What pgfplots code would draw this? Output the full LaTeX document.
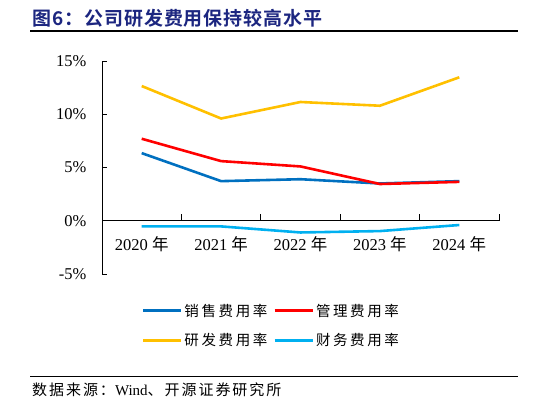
\documentclass[border=0pt]{standalone}
\usepackage{fontspec}
\usepackage{pgfplots}
\pgfplotsset{compat=1.18}
\setmainfont{Liberation Serif}
\newfontfamily\cjk{Noto Sans CJK SC}
\newfontfamily\cjkleg[LetterSpace=18]{Noto Sans CJK SC}
\newfontfamily\cjksrc[LetterSpace=13]{Noto Sans CJK SC}
\newfontfamily\cjktitle[LetterSpace=5]{Noto Sans CJK SC Bold}
\definecolor{titleblue}{RGB}{28,38,128}
\definecolor{cblue}{RGB}{0,112,192}
\definecolor{cred}{RGB}{255,0,0}
\definecolor{cyellow}{RGB}{255,192,0}
\definecolor{ccyan}{RGB}{0,176,240}
\begin{document}
\begin{tikzpicture}[x=1bp,y=1bp]
\useasboundingbox (0,0) rectangle (546,405);
\node[anchor=west, inner sep=0, text=titleblue, font=\cjktitle\fontsize{19bp}{21bp}\selectfont] at (32,387) {图6：公司研发费用保持较高水平};
\draw[line width=1.2bp] (30,374) -- (518,374);
\draw[line width=0.8bp] (30,29) -- (518,29);
\node[anchor=west, inner sep=0, font=\fontsize{15bp}{18bp}\selectfont] at (32,15) {{\cjksrc 数据来源：}Wind{\cjksrc 、开源证券研究所}};
\begin{axis}[
  scale only axis, width=397bp, height=213bp,
  at={(102bp,131bp)}, anchor=south west,
  xmin=-0.5, xmax=4.5, ymin=-5, ymax=15,
  axis y line=left, axis x line=middle,
  axis line style={-, line width=0.8bp, black},
  xtick={0,1,2,3,4},
  xticklabels={{2020 {\cjk 年}},{2021 {\cjk 年}},{2022 {\cjk 年}},{2023 {\cjk 年}},{2024 {\cjk 年}}},
  major x tick style={draw=none},
  minor xtick={0.5,1.5,2.5,3.5,4.5},
  minor x tick style={line width=0.8bp, black},
  xtick align=inside, ytick align=inside,
  minor tick length=6.5bp, major tick length=5bp,
  ytick={-5,0,5,10,15},
  y tick style={line width=0.8bp, black},
  yticklabel={\pgfmathprintnumber{\tick}\%},
  /pgf/number format/assume math mode=true,
  tick label style={font=\fontsize{16.5bp}{19bp}\selectfont},
  yticklabel style={anchor=east, xshift=-12bp},
  xticklabel style={yshift=-12bp},
  legend columns=2,
  legend cell align=left,
  legend style={draw=none, fill=none, inner sep=0pt,
    at={(0.10,-0.13)}, anchor=north west,
    font=\cjkleg\fontsize{14.5bp}{17bp}\selectfont,
    row sep=12bp,
    /tikz/every even column/.append style={column sep=4bp}},
  legend image code/.code={\draw[#1] (0,0) -- (38bp,0);},
  every axis plot/.append style={line width=2.6bp, line join=round},
]
\addplot[cblue, no markers] coordinates {(0,6.35) (1,3.72) (2,3.9) (3,3.5) (4,3.72)};
\addlegendentry{销售费用率}
\addplot[cred, no markers] coordinates {(0,7.7) (1,5.6) (2,5.1) (3,3.45) (4,3.65)};
\addlegendentry{管理费用率}
\addplot[cyellow, no markers] coordinates {(0,12.65) (1,9.6) (2,11.15) (3,10.8) (4,13.47)};
\addlegendentry{研发费用率}
\addplot[ccyan, no markers] coordinates {(0,-0.53) (1,-0.53) (2,-1.1) (3,-0.97) (4,-0.4)};
\addlegendentry{财务费用率}
\end{axis}
\end{tikzpicture}
\end{document}
